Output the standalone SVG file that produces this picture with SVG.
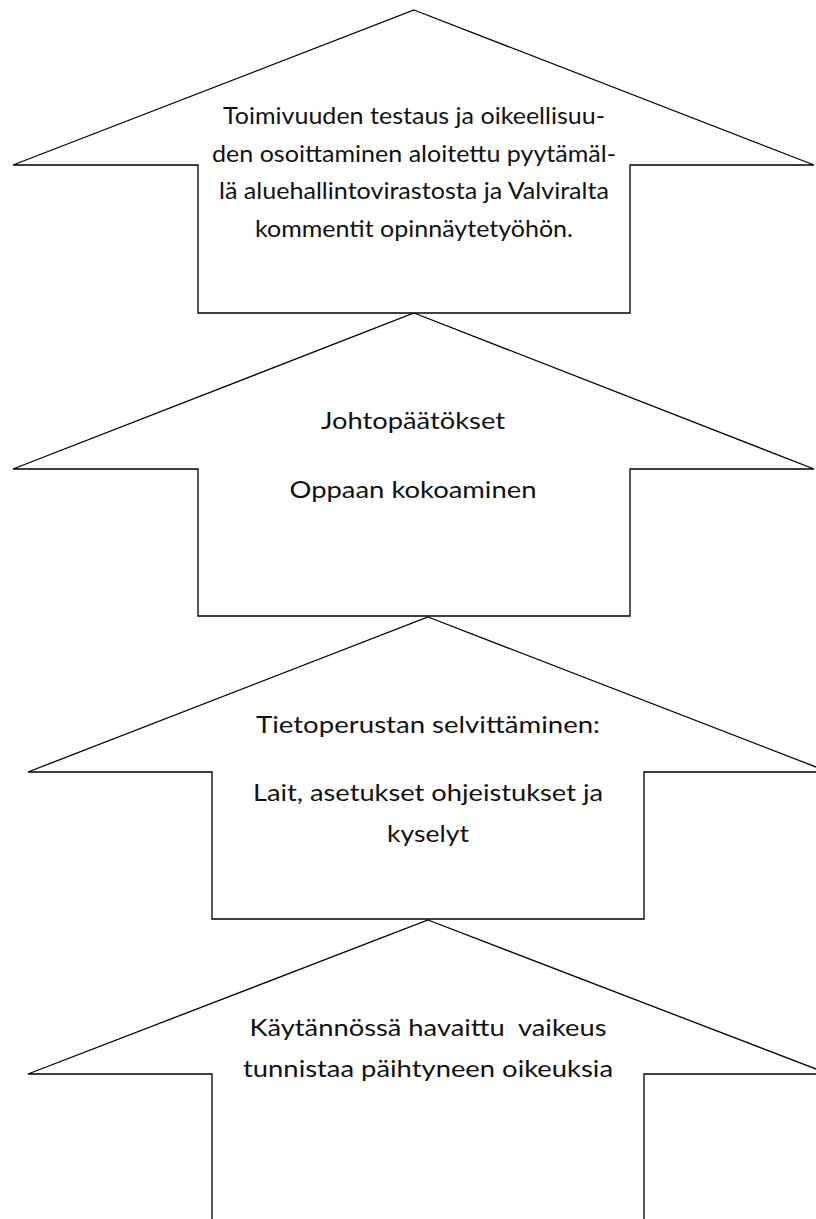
<svg xmlns="http://www.w3.org/2000/svg" width="816" height="1219" viewBox="0 0 816 1219">
<style>
.arrow{fill:#ffffff;stroke:#000000;stroke-width:1.3;stroke-linejoin:miter}
.t{font-family:Lato,"Open Sans","Liberation Sans",sans-serif;font-size:23.5px;fill:#111111;text-anchor:middle;white-space:pre}
</style>
<rect width="816" height="1219" fill="#ffffff"/>
<g id="connectors"/>
<g id="node4">
<polygon class="arrow" points="428,920 829,1074 644,1074 644,1230 212,1230 212,1074 28,1074"/>
<text class="t" x="428" y="1036" textLength="357" lengthAdjust="spacingAndGlyphs" xml:space="preserve">Käytännössä havaittu  vaikeus</text>
<text class="t" x="428" y="1077" textLength="370" lengthAdjust="spacingAndGlyphs">tunnistaa päihtyneen oikeuksia</text>
</g>
<g id="node3">
<polygon class="arrow" points="428,617 829,772 644,772 644,919 212,919 212,772 28,772"/>
<text class="t" x="428" y="733" textLength="344" lengthAdjust="spacingAndGlyphs">Tietoperustan selvittäminen:</text>
<text class="t" x="428" y="801" textLength="350" lengthAdjust="spacingAndGlyphs">Lait, asetukset ohjeistukset ja</text>
<text class="t" x="428" y="842" textLength="82" lengthAdjust="spacingAndGlyphs">kyselyt</text>
</g>
<g id="node2">
<polygon class="arrow" points="414,313 814,469 630,469 630,616 198,616 198,469 13,469"/>
<text class="t" x="413" y="429" textLength="184" lengthAdjust="spacingAndGlyphs">Johtopäätökset</text>
<text class="t" x="413" y="498" textLength="247" lengthAdjust="spacingAndGlyphs">Oppaan kokoaminen</text>
</g>
<g id="node1">
<polygon class="arrow" points="414,10 814,165 630,165 630,313 198,313 198,165 13,165"/>
<text class="t" x="414" y="124" textLength="382" lengthAdjust="spacingAndGlyphs">Toimivuuden testaus ja oikeellisuu-</text>
<text class="t" x="414" y="161.5" textLength="404" lengthAdjust="spacingAndGlyphs">den osoittaminen aloitettu pyytämäl-</text>
<text class="t" x="414" y="199" textLength="390" lengthAdjust="spacingAndGlyphs">lä aluehallintovirastosta ja Valviralta</text>
<text class="t" x="414" y="236.5" textLength="318" lengthAdjust="spacingAndGlyphs">kommentit opinnäytetyöhön.</text>
</g>
</svg>
